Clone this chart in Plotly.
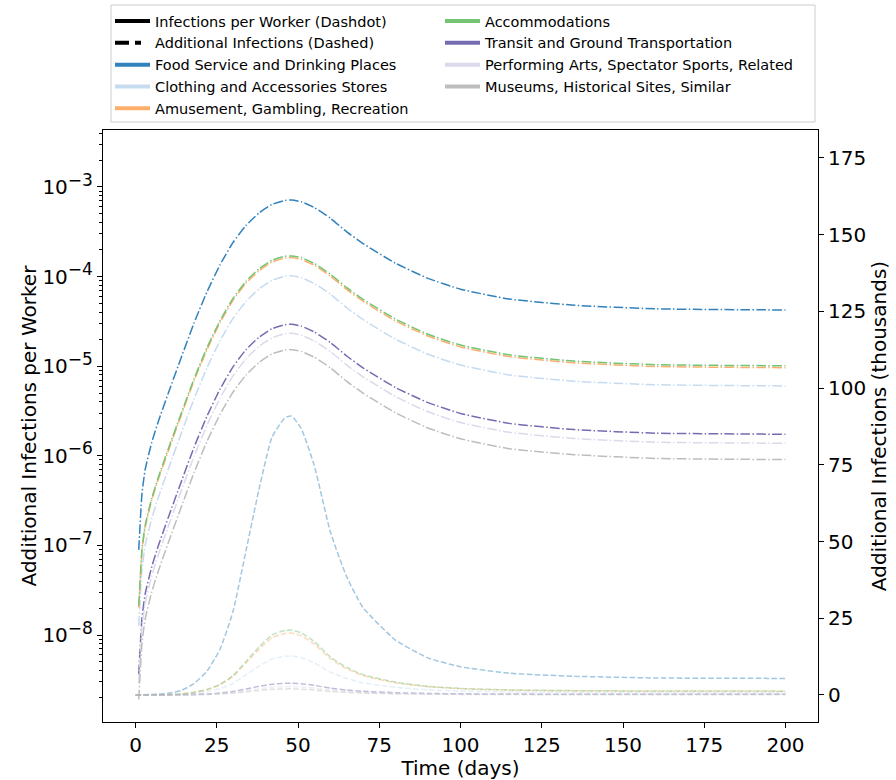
import plotly.graph_objects as go

# ---- data ----
days = [1, 2, 3, 5, 7, 10, 14, 18, 22, 26, 30, 34, 38, 42, 46, 48, 51, 55, 60, 65, 70, 80, 90, 100, 115, 135, 160, 200]
days_d = [0] + days

sectors = [
    "Food Service and Drinking Places",
    "Clothing and Accessories Stores",
    "Amusement, Gambling, Recreation",
    "Accommodations",
    "Transit and Ground Transportation",
    "Performing Arts, Spectator Sports, Related",
    "Museums, Historical Sites, Similar",
]
colors = ["#3182bd", "#c6dbef", "#fdae6b", "#74c476", "#756bb1", "#dadaeb", "#bdbdbd"]

# infections per worker (dashdot, left log axis)
pw_food = [8.91e-8, 3.80e-7, 7.08e-7, 1.41e-6, 2.40e-6, 4.90e-6, 1.23e-5, 3.02e-5, 6.76e-5, 1.35e-4,
           2.40e-4, 3.72e-4, 5.13e-4, 6.38e-4, 7.08e-4, 7.16e-4, 6.84e-4, 5.89e-4, 4.47e-4, 3.16e-4,
           2.34e-4, 1.41e-4, 9.55e-5, 7.24e-5, 5.62e-5, 4.79e-5, 4.37e-5, 4.24e-5]
pw_clothing = [1.27e-8, 5.40e-8, 1.01e-7, 2.00e-7, 3.41e-7, 6.96e-7, 1.75e-6, 4.29e-6, 9.60e-6, 1.92e-5,
               3.41e-5, 5.28e-5, 7.28e-5, 9.06e-5, 1.01e-4, 1.02e-4, 9.71e-5, 8.36e-5, 6.35e-5, 4.49e-5,
               3.32e-5, 2.00e-5, 1.36e-5, 1.03e-5, 7.98e-6, 6.80e-6, 6.21e-6, 6.02e-6]
pw_amusement = [2.02e-8, 8.63e-8, 1.61e-7, 3.20e-7, 5.45e-7, 1.11e-6, 2.79e-6, 6.86e-6, 1.53e-5, 3.06e-5,
                5.45e-5, 8.44e-5, 1.16e-4, 1.45e-4, 1.61e-4, 1.63e-4, 1.55e-4, 1.34e-4, 1.01e-4, 7.17e-5,
                5.31e-5, 3.20e-5, 2.17e-5, 1.64e-5, 1.28e-5, 1.09e-5, 9.92e-6, 9.62e-6]
pw_accom = [2.12e-8, 9.04e-8, 1.69e-7, 3.36e-7, 5.71e-7, 1.17e-6, 2.93e-6, 7.19e-6, 1.61e-5, 3.21e-5,
            5.71e-5, 8.85e-5, 1.22e-4, 1.52e-4, 1.69e-4, 1.70e-4, 1.63e-4, 1.40e-4, 1.06e-4, 7.52e-5,
            5.57e-5, 3.36e-5, 2.27e-5, 1.72e-5, 1.34e-5, 1.14e-5, 1.04e-5, 1.01e-5]
pw_transit = [3.65e-9, 1.56e-8, 2.90e-8, 5.78e-8, 9.84e-8, 2.01e-7, 5.04e-7, 1.24e-6, 2.77e-6, 5.54e-6,
              9.84e-6, 1.53e-5, 2.10e-5, 2.62e-5, 2.90e-5, 2.94e-5, 2.80e-5, 2.41e-5, 1.83e-5, 1.30e-5,
              9.59e-6, 5.78e-6, 3.92e-6, 2.97e-6, 2.30e-6, 1.96e-6, 1.79e-6, 1.74e-6]
pw_perf = [2.90e-9, 1.24e-8, 2.30e-8, 4.58e-8, 7.80e-8, 1.59e-7, 4.00e-7, 9.82e-7, 2.20e-6, 4.39e-6,
           7.80e-6, 1.21e-5, 1.67e-5, 2.07e-5, 2.30e-5, 2.33e-5, 2.22e-5, 1.91e-5, 1.45e-5, 1.03e-5,
           7.61e-6, 4.58e-6, 3.10e-6, 2.35e-6, 1.83e-6, 1.56e-6, 1.42e-6, 1.38e-6]
pw_museums = [1.91e-9, 8.13e-9, 1.52e-8, 3.02e-8, 5.14e-8, 1.05e-7, 2.63e-7, 6.46e-7, 1.45e-6, 2.89e-6,
              5.14e-6, 7.96e-6, 1.10e-5, 1.37e-5, 1.52e-5, 1.53e-5, 1.46e-5, 1.26e-5, 9.57e-6, 6.76e-6,
              5.01e-6, 3.02e-6, 2.04e-6, 1.55e-6, 1.20e-6, 1.03e-6, 9.35e-7, 9.07e-7]

# additional infections, thousands (dashed, right axis)
ai_food = [0, 0.01, 0.05, 0.08, 0.17, 0.28, 0.54, 1.42, 3.75, 7.8, 14.9, 27.2, 47.0, 67.0, 84.0, 90.3, 90.9,
           86.8, 74.8, 53.0, 38.5, 28.5, 17.9, 12.1, 9.2, 7.1, 6.1, 5.55, 5.4]
ai_clothing = [0, 0, 0.01, 0.01, 0.02, 0.04, 0.08, 0.20, 0.53, 1.09, 2.09, 3.81, 6.58, 9.38, 11.76, 12.64,
               12.73, 12.15, 10.47, 7.42, 5.39, 3.99, 2.51, 1.69, 1.29, 0.99, 0.85, 0.78, 0.76]
ai_amusement = [0, 0, 0.01, 0.02, 0.04, 0.06, 0.12, 0.32, 0.83, 1.73, 3.31, 6.04, 10.43, 14.87, 18.65, 20.05,
                20.18, 19.27, 16.61, 11.77, 8.55, 6.33, 3.97, 2.69, 2.04, 1.58, 1.35, 1.23, 1.20]
ai_accom = [0, 0, 0.01, 0.02, 0.04, 0.07, 0.13, 0.33, 0.87, 1.82, 3.47, 6.34, 10.95, 15.61, 19.57, 21.04,
            21.18, 20.22, 17.43, 12.35, 8.97, 6.64, 4.17, 2.82, 2.14, 1.65, 1.42, 1.29, 1.26]
ai_transit = [0, 0, 0, 0, 0.01, 0.01, 0.02, 0.06, 0.16, 0.33, 0.63, 1.14, 1.97, 2.81, 3.53, 3.79, 3.82,
              3.65, 3.14, 2.23, 1.62, 1.20, 0.75, 0.51, 0.39, 0.30, 0.26, 0.23, 0.23]
ai_perf = [0, 0, 0, 0, 0.01, 0.01, 0.02, 0.04, 0.11, 0.23, 0.45, 0.82, 1.41, 2.01, 2.52, 2.71, 2.73,
           2.60, 2.24, 1.59, 1.16, 0.86, 0.54, 0.36, 0.28, 0.21, 0.18, 0.17, 0.16]
ai_museums = [0, 0, 0, 0, 0, 0.01, 0.01, 0.03, 0.08, 0.17, 0.33, 0.60, 1.03, 1.47, 1.85, 1.99, 2.00,
              1.91, 1.65, 1.17, 0.85, 0.63, 0.39, 0.27, 0.20, 0.16, 0.13, 0.12, 0.12]

per_worker = [pw_food, pw_clothing, pw_amusement, pw_accom, pw_transit, pw_perf, pw_museums]
additional = [ai_food, ai_clothing, ai_amusement, ai_accom, ai_transit, ai_perf, ai_museums]

x_ticks = [0, 25, 50, 75, 100, 125, 150, 175, 200]
y_log_ticks = [1e-8, 1e-7, 1e-6, 1e-5, 1e-4, 1e-3]
y_log_exps = ["−8", "−7", "−6", "−5", "−4", "−3"]
y2_ticks = [0, 25, 50, 75, 100, 125, 150, 175]

# ---- figure ----
FONT = "DejaVu Sans"
DASHDOT = "9.6px,2.4px,1.5px,2.4px"
DASHED = "5.5px,2.4px"


def rgba(hexc, a):
    h = hexc.lstrip("#")
    r, g, b = int(h[0:2], 16), int(h[2:4], 16), int(h[4:6], 16)
    return f"rgba({r},{g},{b},{a})"


y_log_labels = [f"10<sup><span style='font-size:17px'>{e}</span></sup>" for e in y_log_exps]
minor_vals = [m * 10.0 ** p for p in range(-9, -2) for m in range(2, 10)]

fig = go.Figure()

for name, col, vals in zip(sectors, colors, per_worker):
    fig.add_trace(go.Scatter(x=days, y=vals, mode="lines", yaxis="y", showlegend=False,
                             line=dict(color=col, width=1.5, dash=DASHDOT, shape="spline", smoothing=0.5),
                             hoverinfo="skip"))
for name, col, vals in zip(sectors, colors, additional):
    fig.add_trace(go.Scatter(x=days_d, y=vals, mode="lines", yaxis="y2", showlegend=False,
                             line=dict(color=rgba(col, 0.45), width=1.5, dash=DASHED, shape="spline", smoothing=0.5),
                             hoverinfo="skip"))

# legend entries: two columns as two legends inside one drawn box
legend_items = [("Infections per Worker (Dashdot)", "black", "solid"),
                ("Additional Infections (Dashed)", "black", "14px,6px,6px,20px")] + \
               [(n, c, "solid") for n, c in zip(sectors, colors)]
legend_ids = ["legend"] * 5 + ["legend2"] * 4
for (name, col, dash), lid in zip(legend_items, legend_ids):
    fig.add_trace(go.Scatter(x=[None], y=[None], mode="lines", name=name, legend=lid,
                             line=dict(color=col, width=4, dash=dash), yaxis="y", showlegend=True))

leg_common = dict(orientation="v", yanchor="top", xanchor="left", bgcolor="rgba(0,0,0,0)",
                  borderwidth=0, font=dict(family=FONT, size=14.5, color="black"),
                  itemwidth=35, traceorder="normal", tracegroupgap=0)

fig.update_layout(
    width=896, height=780,
    margin=dict(l=103, r=78, t=130, b=58, autoexpand=False),
    paper_bgcolor="white", plot_bgcolor="white",
    font=dict(family=FONT, size=20, color="black"),
    showlegend=True,
    legend=dict(x=0.0098, y=1.2111, **leg_common),
    legend2=dict(x=0.4713, y=1.2111, **leg_common),
    shapes=[dict(type="rect", xref="paper", yref="paper", x0=0.0112, x1=0.9958, y0=1.0135, y1=1.2111,
                 line=dict(color="#cccccc", width=1), fillcolor="rgba(0,0,0,0)", layer="below")],
    xaxis=dict(range=[-10, 210], tickvals=x_ticks, showgrid=False, zeroline=False,
               showline=True, linecolor="black", linewidth=1.2, mirror=True,
               ticks="outside", ticklen=5, tickcolor="black", tickfont=dict(size=20),
               title=dict(text="Time (days)", font=dict(size=20), standoff=0)),
    yaxis=dict(type="log", range=[-8.971, -2.364], tickvals=y_log_ticks, ticktext=y_log_labels,
               showgrid=False, zeroline=False, showline=True, linecolor="black", linewidth=1.2, mirror=True,
               ticks="outside", ticklen=5, tickcolor="black", tickfont=dict(size=20),
               minor=dict(tickvals=minor_vals, ticks="outside", ticklen=3, tickcolor="black", showgrid=False),
               title=dict(text="Additional Infections per Worker", font=dict(size=20), standoff=0)),
    yaxis2=dict(overlaying="y", side="right", range=[-8.8, 184.1], tickvals=y2_ticks,
                showgrid=False, zeroline=False, showline=True, linecolor="black", linewidth=1.2,
                ticks="outside", ticklen=5, tickcolor="black", tickfont=dict(size=20),
                title=dict(text="Additional Infections (thousands)", font=dict(size=20), standoff=6)),
)

fig.write_html("out.html", post_script="document.body.style.margin='0px';",
               config={"displayModeBar": False})
